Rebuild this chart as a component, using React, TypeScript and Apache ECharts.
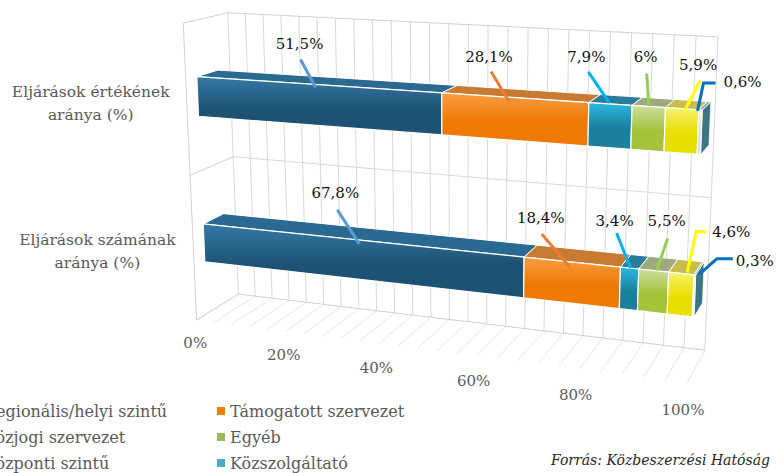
import React, { useEffect, useRef } from "react";
import * as echarts from "echarts";

// ---- data ----
// category order follows the category axis: index 0 is drawn at the bottom
const CATEGORIES = ["Eljárások számának\naránya (%)", "Eljárások értékének\naránya (%)"];
const SERIES_NAMES = [
  "Regionális/helyi szintű",
  "Támogatott szervezet",
  "Közjogi szervezet",
  "Egyéb",
  "Központi szintű",
  "Közszolgáltató",
];
const REGIONALIS = [67.8, 51.5];
const TAMOGATOTT = [18.4, 28.1];
const KOZJOGI = [3.4, 7.9];
const EGYEB = [5.5, 6.0];
const KOZPONTI = [4.6, 5.9];
const KOZSZOLGALTATO = [0.3, 0.6];
const SERIES_VALUES = [REGIONALIS, TAMOGATOTT, KOZJOGI, EGYEB, KOZPONTI, KOZSZOLGALTATO];
const VALUE_TICKS = [0, 20, 40, 60, 80, 100];
const MINOR_STEP = 4;
const SOURCE = "Forrás: Közbeszerzési Hatóság";

// ---- styling ----
const FONT = '"DejaVu Serif", "Liberation Serif", serif';
const LEGEND_COLORS = ["#1F5F8B", "#F07F09", "#1FA0CF", "#9BBB59", "#E8E000", "#4BACC6"];
const FACES = [
  { hi: "#3479A6", lo: "#1E5275", top: "#2A6A92", side: "#1D4C6B" },
  { hi: "#F99D40", lo: "#EE7905", top: "#C97A32", side: "#B85F05" },
  { hi: "#2EB8E2", lo: "#19809E", top: "#2B7B9C", side: "#1A6A85" },
  { hi: "#CCDE9E", lo: "#A4C23A", top: "#A0A87F", side: "#84A030" },
  { hi: "#F6F26C", lo: "#E8DF00", top: "#C6BD4E", side: "#B8B000" },
  { hi: "#E6F3F7", lo: "#CBE6EE", top: "#7FA9B3", side: "#3D7682" },
];
const LEADER_COLORS = ["#5B9BD5", "#ED7D31", "#00B0F0", "#92D050", "#FFFF00", "#0070C0"];
const GRID_COLOR = "#D9D9D9";
const FLOOR_COLOR = "#E6E6E6";
const WALL_EDGE = "#D0D0D0";

// bar geometry inside the 3D box (depth 0 = back wall, 1 = front edge)
const Z_FRONT = 0.76;
const Z_BACK = 0.28;
const BAR_FRAC = 0.265;
const BAR_SHIFT = 0.0;

// label placement relative to the top-front midpoint of each segment
// [series][category] -> text centre offset and leader polyline offsets
const LABEL_LAYOUT: { t: number[]; l: number[][] }[][] = [
  [{ t: [-22, -47], l: [[-20, -30], [2, 4]] }, { t: [-16, -40], l: [[-15, -25], [0, 3]] }],
  [{ t: [-31, -44], l: [[-30, -28], [-2, 5]] }, { t: [-25, -41], l: [[-23, -26], [-5, 4]] }],
  [{ t: [-15, -47], l: [[-13, -35], [1, 0]] }, { t: [-24, -47], l: [[-22, -32], [-1, -1]] }],
  [{ t: [13, -50], l: [[14, -32], [3, 0]] }, { t: [-3, -49], l: [[-2, -33], [0, -1]] }],
  [{ t: [50, -41], l: [[25, -42], [15, -42], [6, -1]] }, { t: [16, -44], l: [[18, -28], [3, 1]] }],
  [{ t: [60, -14], l: [[38, -16], [22, -16], [5, -1]] }, { t: [42, -28], l: [[15, -27], [3, -27], [-3, 1]] }],
];

// ---- perspective camera ----
// reference corners of the plot box: [X (0..1), Y (0..categories), Z (0 back..1 front)] -> screen px
const BOX_CORNERS: [number[], number[]][] = [
  [[0, 2, 0], [228, 13]],
  [[1, 2, 0], [718, 37]],
  [[1, 0, 0], [705, 350]],
  [[0, 0, 0], [238, 294]],
  [[0, 2, 1], [183, 23]],
  [[0, 0, 1], [197, 320]],
  [[1, 0, 1], [687, 383]],
];

function solveCamera(pts: [number[], number[]][]): number[] {
  const rows: number[][] = [];
  const rhs: number[] = [];
  for (const [[X, Y, Z], [u0, v0]] of pts) {
    const u = (u0 - 400) / 300;
    const v = (v0 - 240) / 300;
    rows.push([X, Y, Z, 1, 0, 0, 0, 0, -u * X, -u * Y, -u * Z]);
    rhs.push(u);
    rows.push([0, 0, 0, 0, X, Y, Z, 1, -v * X, -v * Y, -v * Z]);
    rhs.push(v);
  }
  const n = 11;
  const M = Array.from({ length: n }, () => new Array(n + 1).fill(0));
  for (let r = 0; r < rows.length; r++) {
    for (let i = 0; i < n; i++) {
      for (let j = 0; j < n; j++) M[i][j] += rows[r][i] * rows[r][j];
      M[i][n] += rows[r][i] * rhs[r];
    }
  }
  for (let c = 0; c < n; c++) {
    let piv = c;
    for (let r = c + 1; r < n; r++) if (Math.abs(M[r][c]) > Math.abs(M[piv][c])) piv = r;
    const tmp = M[c];
    M[c] = M[piv];
    M[piv] = tmp;
    for (let r = 0; r < n; r++) {
      if (r === c) continue;
      const f = M[r][c] / M[c][c];
      for (let k = c; k <= n; k++) M[r][k] -= f * M[c][k];
    }
  }
  return M.map((row, i) => row[n] / row[i]);
}

const CAM = solveCamera(BOX_CORNERS);

function P(X: number, Y: number, Z: number): number[] {
  const p = CAM;
  const w = p[8] * X + p[9] * Y + p[10] * Z + 1;
  return [
    ((p[0] * X + p[1] * Y + p[2] * Z + p[3]) / w) * 300 + 400,
    ((p[4] * X + p[5] * Y + p[6] * Z + p[7]) / w) * 300 + 240,
  ];
}

const fmt = (v: number) => String(v).replace(".", ",") + "%";

// map axis values into the normalised box space through the hidden cartesian grid
function worldX(api: any, cs: any, v: number, cat: number) {
  const p = api.coord([v, cat]);
  return (p[0] - cs.x) / cs.width;
}
function worldYc(api: any, cs: any, cat: number) {
  const p = api.coord([0, cat]);
  return ((cs.y + cs.height - p[1]) / cs.height) * CATEGORIES.length;
}

const renderBar = (si: number) => (params: any, api: any) => {
  const cs = params.coordSys;
  const start = api.value(0);
  const cat = api.value(1);
  const end = api.value(2);
  const val = api.value(3);
  const X0 = worldX(api, cs, start, cat);
  const X1 = worldX(api, cs, end, cat);
  const band = (api.size([0, 1])[1] / cs.height) * CATEGORIES.length;
  const Yc = worldYc(api, cs, cat) + BAR_SHIFT * band;
  const Yt = Yc + (band * BAR_FRAC) / 2;
  const Yb = Yc - (band * BAR_FRAC) / 2;
  const c = FACES[si];
  const front = [P(X0, Yt, Z_FRONT), P(X1, Yt, Z_FRONT), P(X1, Yb, Z_FRONT), P(X0, Yb, Z_FRONT)];
  const top = [P(X0, Yt, Z_BACK), P(X1, Yt, Z_BACK), P(X1, Yt, Z_FRONT), P(X0, Yt, Z_FRONT)];
  const side = [P(X1, Yt, Z_FRONT), P(X1, Yt, Z_BACK), P(X1, Yb, Z_BACK), P(X1, Yb, Z_FRONT)];
  const base = si * 10;
  const children: any[] = [
    { type: "polygon", z2: base, shape: { points: side }, style: { fill: c.side, stroke: "rgba(255,255,255,0.6)", lineWidth: 1 } },
    { type: "polygon", z2: base + 1, shape: { points: top }, style: { fill: c.top, stroke: "#ffffff", lineWidth: 1 } },
    {
      type: "polygon",
      z2: base + 2,
      shape: { points: front },
      style: {
        fill: new echarts.graphic.LinearGradient(0, 0, 0, 1, [
          { offset: 0, color: c.hi },
          { offset: 0.55, color: c.lo },
          { offset: 1, color: c.lo },
        ]),
        stroke: "#ffffff",
        lineWidth: 1.2,
      },
    },
  ];
  const lay = LABEL_LAYOUT[si][cat];
  const A = P((X0 + X1) / 2, Yt, Z_FRONT);
  children.push({
    type: "polyline",
    z2: 900,
    shape: { points: lay.l.map(([dx, dy]) => [A[0] + dx, A[1] + dy]) },
    style: { stroke: LEADER_COLORS[si], lineWidth: 3, fill: null },
  });
  children.push({
    type: "text",
    z2: 1000,
    x: A[0] + lay.t[0],
    y: A[1] + lay.t[1],
    style: { text: fmt(val), fill: "#111111", font: `15px ${FONT}`, align: "center", verticalAlign: "middle" },
  });
  return { type: "group", children };
};

const renderFrame = (params: any, api: any) => {
  const cs = params.coordSys;
  const H = CATEGORIES.length;
  const children: any[] = [];
  const line = (a: number[], b: number[], stroke: string, w = 1) =>
    children.push({ type: "line", shape: { x1: a[0], y1: a[1], x2: b[0], y2: b[1] }, style: { stroke, lineWidth: w } });

  for (let v = 0; v <= 100; v += MINOR_STEP) {
    const x = worldX(api, cs, v, 0);
    line(P(x, 0, 0), P(x, 0, 1), FLOOR_COLOR);
    line(P(x, 0, 0), P(x, H, 0), GRID_COLOR);
  }
  // back wall edges and category divider
  line(P(0, H, 0), P(1, H, 0), WALL_EDGE);
  line(P(0, 0, 0), P(1, 0, 0), WALL_EDGE);
  for (let k = 1; k < H; k++) {
    line(P(0, k, 0), P(1, k, 0), GRID_COLOR);
    line(P(0, k, 0), P(0, k, 1), WALL_EDGE);
  }
  // side wall
  line(P(0, H, 0), P(0, H, 1), WALL_EDGE);
  line(P(0, 0, 0), P(0, 0, 1), WALL_EDGE);
  line(P(0, H, 1), P(0, 0, 1), WALL_EDGE);

  // value tick labels along the front of the floor
  VALUE_TICKS.forEach((t) => {
    const xn = worldX(api, cs, t, 0);
    const q = P(xn, 0, 1.12);
    children.push({
      type: "text",
      x: q[0] + 4 - 6 * xn,
      y: q[1] + 20 + 3 * xn,
      style: { text: t + "%", fill: "#595959", font: `15px ${FONT}`, align: "center", verticalAlign: "middle" },
    });
  });

  // category labels left of the side wall
  CATEGORIES.forEach((name, ci) => {
    const q = P(0, worldYc(api, cs, ci), 1);
    children.push({
      type: "text",
      x: q[0] - 96,
      y: q[1] + 3,
      style: { text: name, fill: "#595959", font: `15.5px ${FONT}`, lineHeight: 23, align: "center", verticalAlign: "middle" },
    });
  });
  return { type: "group", children };
};

function stackedData(si: number) {
  return CATEGORIES.map((_, ci) => {
    let start = 0;
    for (let k = 0; k < si; k++) start += SERIES_VALUES[k][ci];
    start = Math.round(start * 10) / 10;
    const v = SERIES_VALUES[si][ci];
    return [start, ci, Math.round((start + v) * 10) / 10, v];
  });
}

// two legend columns, three rows; one legend block per entry keeps the grid aligned
const LEGEND_COLUMNS = [-34, 212];
const LEGEND_ROWS = [398, 424, 450];
const legends = SERIES_NAMES.map((name, i) => ({
  orient: "horizontal",
  left: LEGEND_COLUMNS[i % 2],
  top: LEGEND_ROWS[Math.floor(i / 2)],
  itemWidth: 8,
  itemHeight: 8,
  itemGap: 10,
  icon: "rect",
  selectedMode: false,
  textStyle: { fontFamily: FONT, fontSize: 16, color: "#595959" },
  data: [name],
}));

const option: any = {
  animation: false,
  backgroundColor: "#ffffff",
  grid: { left: 0, top: 0, width: 100, height: 100, show: false },
  xAxis: { type: "value", min: 0, max: 100, show: false },
  yAxis: { type: "category", data: CATEGORIES, show: false },
  legend: legends,
  graphic: [
    {
      type: "text",
      right: 6,
      top: 453,
      style: { text: SOURCE, font: `italic 14px ${FONT}`, fill: "#262626" },
    },
  ],
  series: [
    {
      type: "custom",
      name: "frame",
      coordinateSystem: "cartesian2d",
      z: 1,
      silent: true,
      encode: { x: 0, y: 1 },
      data: [[0, 0]],
      renderItem: renderFrame,
    },
    ...SERIES_NAMES.map((name, si) => ({
      type: "custom",
      name,
      coordinateSystem: "cartesian2d",
      z: 3,
      silent: true,
      itemStyle: { color: LEGEND_COLORS[si] },
      encode: { x: [0, 2], y: 1 },
      data: stackedData(si),
      renderItem: renderBar(si),
    })),
  ],
};

export default function App() {
  const ref = useRef<HTMLDivElement>(null);
  useEffect(() => {
    const chart = echarts.init(ref.current!, null, { renderer: "svg" });
    chart.setOption(option);
    return () => chart.dispose();
  }, []);
  return (
    <div
      ref={ref}
      style={{ position: "absolute", left: 0, top: 0, width: 776, height: 473, background: "#ffffff" }}
    />
  );
}
